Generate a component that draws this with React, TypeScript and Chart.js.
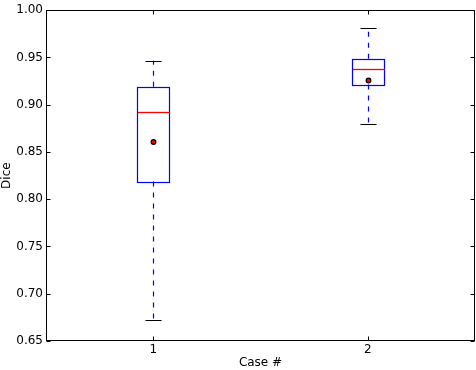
import React, { useEffect, useRef } from "react";
import { Chart, registerables } from "chart.js";

Chart.register(...registerables);

const categories = [1, 2];
const whiskerLow = [0.672, 0.8795];
const q1 = [0.8187, 0.9214];
const median = [0.892, 0.9382];
const q3 = [0.919, 0.9487];
const whiskerHigh = [0.9466, 0.981];
const means = [0.8606, 0.9256];
const yTicks = [0.65, 0.7, 0.75, 0.8, 0.85, 0.9, 0.95, 1.0];

const boxPlugin = {
  id: "boxPlugin",
  afterDatasetsDraw(chart: any) {
    const { ctx, chartArea, scales } = chart;
    const xs = scales.x;
    const ys = scales.y;
    ctx.save();
    const halfW = xs.getPixelForValue(1.075) - xs.getPixelForValue(1);
    const capW = halfW / 2;
    categories.forEach((c, i) => {
      const cx = Math.round(xs.getPixelForValue(c)) + 0.5;
      const yLo = ys.getPixelForValue(whiskerLow[i]);
      const yQ1 = ys.getPixelForValue(q1[i]);
      const yMed = ys.getPixelForValue(median[i]);
      const yQ3 = ys.getPixelForValue(q3[i]);
      const yHi = ys.getPixelForValue(whiskerHigh[i]);
      ctx.strokeStyle = "#0000ff";
      ctx.lineWidth = 1.2;
      ctx.setLineDash([5, 6]);
      ctx.beginPath();
      ctx.moveTo(cx, yQ1);
      ctx.lineTo(cx, yLo);
      ctx.moveTo(cx, yQ3);
      ctx.lineTo(cx, yHi);
      ctx.stroke();
      ctx.setLineDash([]);
      ctx.strokeStyle = "#000000";
      ctx.lineWidth = 1.2;
      ctx.beginPath();
      ctx.moveTo(cx - capW, Math.round(yLo) + 0.5);
      ctx.lineTo(cx + capW, Math.round(yLo) + 0.5);
      ctx.moveTo(cx - capW, Math.round(yHi) + 0.5);
      ctx.lineTo(cx + capW, Math.round(yHi) + 0.5);
      ctx.stroke();
      ctx.strokeStyle = "#0000ff";
      ctx.lineWidth = 1.2;
      ctx.strokeRect(Math.round(cx - halfW) + 0.5, Math.round(yQ3) + 0.5, Math.round(2 * halfW), Math.round(yQ1 - yQ3));
      ctx.strokeStyle = "#ff0000";
      ctx.lineWidth = 1.3;
      ctx.beginPath();
      ctx.moveTo(Math.round(cx - halfW) + 1, Math.round(yMed) + 0.5);
      ctx.lineTo(Math.round(cx + halfW), Math.round(yMed) + 0.5);
      ctx.stroke();
      const ym = ys.getPixelForValue(means[i]);
      ctx.fillStyle = "#ff0000";
      ctx.strokeStyle = "#000000";
      ctx.lineWidth = 1.3;
      ctx.beginPath();
      ctx.arc(cx, ym, 2.3, 0, Math.PI * 2);
      ctx.fill();
      ctx.stroke();
    });
    ctx.strokeStyle = "#000000";
    ctx.lineWidth = 1;
    const l = Math.round(chartArea.left) + 0.5;
    const r = Math.round(chartArea.right) - 0.5;
    const t = Math.round(chartArea.top) + 0.5;
    const b = Math.round(chartArea.bottom) - 0.5;
    ctx.strokeRect(l, t, r - l, b - t);
    ctx.beginPath();
    yTicks.forEach((v) => {
      const y = Math.round(ys.getPixelForValue(v)) + 0.5;
      ctx.moveTo(l, y);
      ctx.lineTo(l + 4, y);
      ctx.moveTo(r, y);
      ctx.lineTo(r - 4, y);
    });
    categories.forEach((c) => {
      const x = Math.round(xs.getPixelForValue(c)) + 0.5;
      ctx.moveTo(x, b);
      ctx.lineTo(x, b - 4);
      ctx.moveTo(x, t);
      ctx.lineTo(x, t + 4);
    });
    ctx.stroke();
    ctx.restore();
  },
};

export default function App() {
  const ref = useRef<HTMLCanvasElement>(null);
  useEffect(() => {
    if (!ref.current) return;
    const font = { family: "DejaVu Sans", size: 12 };
    const chart = new Chart(ref.current, {
      type: "scatter",
      data: { datasets: [{ data: [], pointRadius: 0 }] },
      options: {
        animation: false,
        responsive: false,
        maintainAspectRatio: false,
        layout: { padding: { top: 7, right: 1, left: 0, bottom: 0 } },
        plugins: { legend: { display: false }, tooltip: { enabled: false } },
        scales: {
          x: {
            type: "linear",
            min: 0.5,
            max: 2.5,
            afterBuildTicks: (s: any) => {
              s.ticks = categories.map((v) => ({ value: v }));
            },
            afterFit: (s: any) => {
              s.height = 29;
            },
            grid: { display: false, drawTicks: false },
            border: { display: false },
            ticks: { color: "#000", font, padding: 2, callback: (v: any) => String(v) },
            title: { display: true, text: "Case #", color: "#000", font, padding: { top: 0, bottom: 0 } },
          },
          y: {
            type: "linear",
            min: 0.65,
            max: 1.0,
            afterBuildTicks: (s: any) => {
              s.ticks = yTicks.map((v) => ({ value: v }));
            },
            afterFit: (s: any) => {
              s.width = 46;
            },
            grid: { display: false, drawTicks: false },
            border: { display: false },
            ticks: { color: "#000", font, padding: 3, callback: (v: any) => Number(v).toFixed(2) },
            title: { display: true, text: "Dice", color: "#000", font, padding: { top: 0, bottom: 0 } },
          },
        },
      },
      plugins: [boxPlugin],
    } as any);
    return () => chart.destroy();
  }, []);
  return (
    <div style={{ position: "absolute", left: 0, top: 0, width: 476, height: 370, background: "#fff" }}>
      <canvas ref={ref} width={476} height={370} style={{ width: 476, height: 370 }} />
    </div>
  );
}
